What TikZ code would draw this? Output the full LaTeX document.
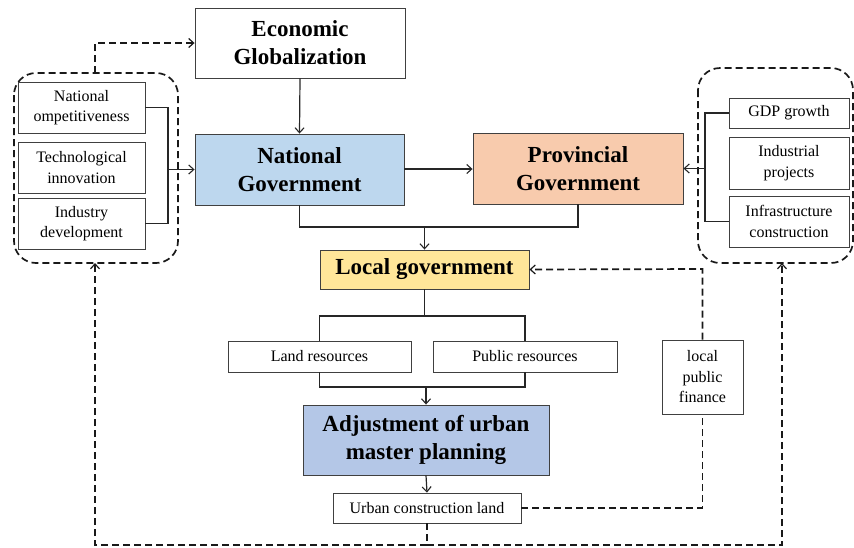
\documentclass[tikz,border=0pt]{standalone}
\usepackage{fontspec}
\setmainfont{Liberation Serif}
\usetikzlibrary{arrows.meta,shadows}
\definecolor{ngblue}{HTML}{BDD7EE}
\definecolor{pgpeach}{HTML}{F8CBAD}
\definecolor{lgyellow}{HTML}{FFE699}
\definecolor{adjblue}{HTML}{B4C7E7}
\newcommand\bigtxt{\fontsize{23}{28}\selectfont\bfseries}
\newcommand\smalltxt{\fontsize{16}{20.5}\selectfont}
\tikzset{
  basebox/.style={draw=black!75, line width=0.9pt, align=center, inner sep=0pt,
    drop shadow={shadow xshift=1.2pt, shadow yshift=-1.2pt, fill=black, opacity=0.9}},
  bigbox/.style={basebox, font=\bigtxt},
  smallbox/.style={basebox, fill=white, font=\smalltxt},
  conn/.style={draw=black!85, line width=1.2pt},
  arr/.style={conn, -{Straight Barb[length=5pt,width=9pt,line width=1.1pt]}},
  dashline/.style={draw=black!90, line width=1.7pt, dash pattern=on 7pt off 4pt},
  dasharr/.style={dashline, -{Straight Barb[length=5pt,width=9pt,line width=1.2pt]}},
  group/.style={dashline, rounded corners=22pt},
}
\begin{document}
\begin{tikzpicture}[x=1pt,y=-1pt]
\useasboundingbox (0,0) rectangle (854,547);
% dashed groups
\draw[group] (14,73) rectangle (178,263);
\draw[group] (698,68) rectangle (853,263);
\coordinate (lgtop) at (95,73);
\coordinate (lgbot) at (95,263);
\coordinate (rgbot) at (782,263);
% main boxes
\node[bigbox, fill=white, minimum width=210, minimum height=70] (eg) at (300,43) {Economic\\Globalization};
\node[bigbox, fill=ngblue, minimum width=209, minimum height=71] (ng) at (299.5,169.5) {National\\Government};
\node[bigbox, fill=pgpeach, minimum width=210, minimum height=71] (pg) at (578,168.5) {Provincial\\Government};
\node[bigbox, fill=lgyellow, minimum width=209, minimum height=39] (lg) at (424.5,269.5) {Local government};
\node[bigbox, fill=adjblue, minimum width=246, minimum height=70] (adj) at (426,440) {Adjustment of urban\\master planning};
% small boxes
\node[smallbox, minimum width=183, minimum height=31] (lr) at (319.5,356.5) {Land resources};
\node[smallbox, minimum width=184, minimum height=31] (pr) at (525,356.5) {Public resources};
\node[smallbox, minimum width=188, minimum height=30] (ucl) at (427,508) {Urban construction land};
\node[smallbox, minimum width=81, minimum height=74] (lpf) at (702.5,377) {local\\public\\finance};
\node[smallbox, minimum width=127, minimum height=51] (nc) at (81.5,107.5) {National\\ompetitiveness};
\node[smallbox, minimum width=127, minimum height=51] (ti) at (81.5,167.5) {Technological\\innovation};
\node[smallbox, minimum width=127, minimum height=51] (id) at (81.5,223.5) {Industry\\development};
\node[smallbox, minimum width=120, minimum height=30] (gdp) at (789,113) {GDP growth};
\node[smallbox, minimum width=120, minimum height=52] (ip) at (789,163) {Industrial\\projects};
\node[smallbox, minimum width=120, minimum height=51] (ic) at (789,221.5) {Infrastructure\\construction};
% left group connectors
\draw[conn] (nc.east) -- (168,107.5) -- (168,223.5) -- (id.east);
\draw[arr] (168,169.5) -- (ng.west);
% right group connectors
\draw[conn] (gdp.west) -- (705,113) -- (705,221.5) -- (ic.west);
\draw[arr] (705,168.5) -- (pg.east);
% main flow
\draw[arr] (eg.south) -- (ng.north);
\draw[arr] (ng.east |- 0,169) -- (pg.west |- 0,169);
\draw[conn] (ng.south) -- (299.5,227) -- (578,227) -- (pg.south);
\draw[arr] (424.5,227) -- (lg.north);
\draw[conn] (lg.south) -- (424.5,316);
\draw[conn] (lr.north) -- (319.5,316) -- (525,316) -- (pr.north);
\draw[conn] (lr.south) -- (319.5,387) -- (525,387) -- (pr.south);
\draw[arr] (426,387) -- (adj.north);
\draw[arr] (adj.south) -- (ucl.north);
% dashed feedback
\draw[dasharr] (lgtop) -- (95,43) -- (eg.west |- 0,43);
\draw[dashline] (ucl.east) -- (702.5,508) -- (lpf.south);
\draw[dasharr] (lpf.north) -- (702.5,269) -- (lg.east);
\draw[dashline] (ucl.south) -- (427,545);
\draw[dasharr] (427,545) -- (95,545) -- (lgbot);
\draw[dasharr] (427,545) -- (782,545) -- (rgbot);
\end{tikzpicture}
\end{document}
